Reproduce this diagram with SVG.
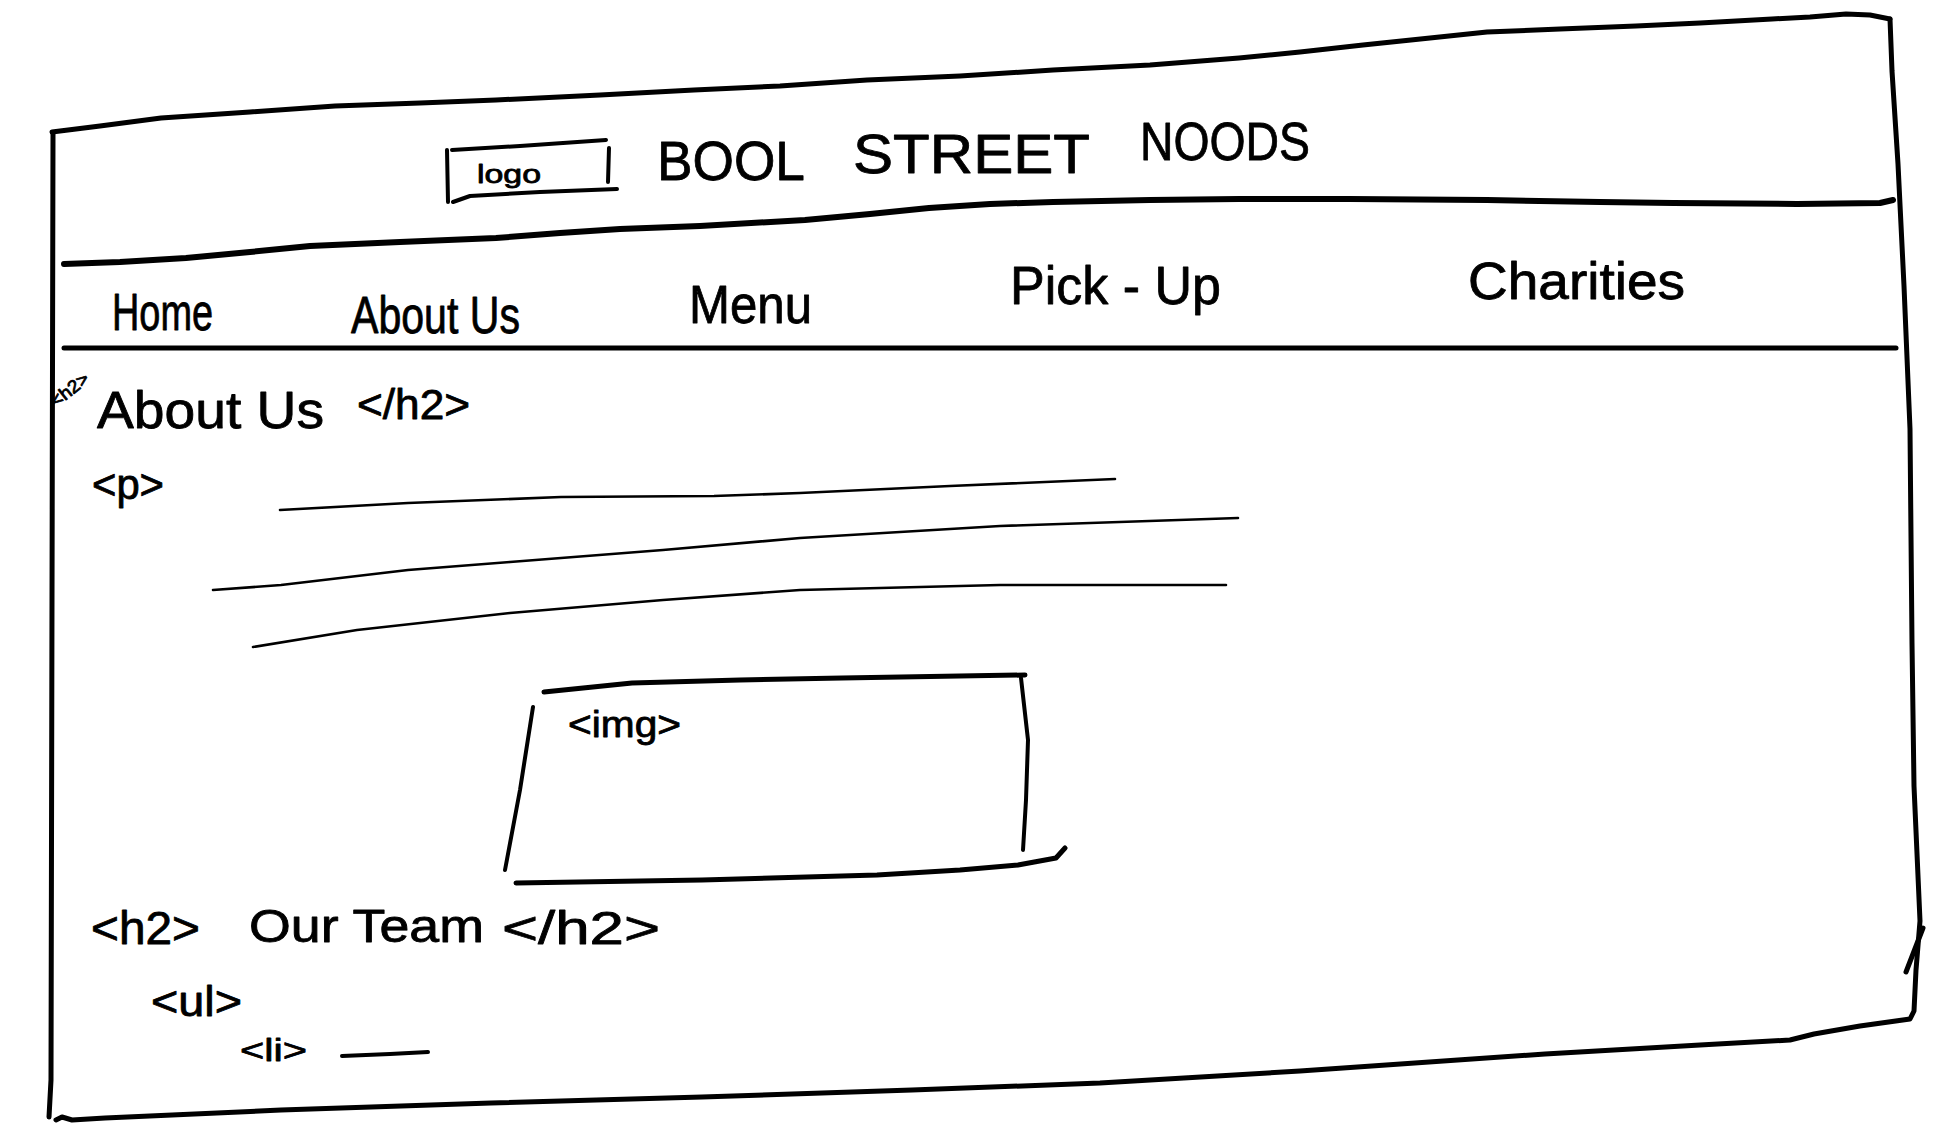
<svg xmlns="http://www.w3.org/2000/svg" width="1942" height="1124" viewBox="0 0 1942 1124">
<style>
.ink{fill:none;stroke:#000;stroke-linecap:round;stroke-linejoin:round}
.b{stroke-width:5}
.m{stroke-width:4}
.t{stroke-width:2.6}
text{font-family:"Liberation Sans","DejaVu Sans",sans-serif;fill:#000;stroke:#000;stroke-width:0.8;stroke-linejoin:round}
</style>
<rect width="1942" height="1124" fill="#fff"/>
<g id="page-frame">
<path class="ink b" d="M52,132 L100,126 L161,118 L250,112 L335,106 L420,103 L496,100 L600,95 L694,90 L780,86 L867,80 L960,76 L1053,70 L1150,65 L1239,58 L1300,52 L1363,45 L1430,38 L1487,32 L1560,29 L1636,26 L1700,23 L1772,19 L1810,17 L1846,14 L1870,15 L1890,19"/>
<path class="ink b" d="M1890,19 L1892,71 L1898,164 L1904,286 L1910,429 L1912,643 L1914,786 L1920,921 L1916,970 L1914,1011 L1910,1019 L1860,1026 L1814,1034 L1790,1040 L1700,1045 L1545,1054 L1300,1071 L1100,1083 L912,1090 L702,1097 L491,1103 L281,1110 L105,1118 L72,1120 L62,1117 L56,1120"/>
<path class="ink b" d="M1923,928 L1906,972"/>
<path class="ink b" d="M53,134 L52,600 L51,1080 L49,1117"/>
</g>
<g id="header">
<path class="ink" stroke-width="6" d="M64,264 L120,262 L186,258 L250,252 L310,246 L400,242 L496,238 L560,233 L620,229 L700,226 L805,220 L870,214 L929,208 L990,204 L1053,202 L1150,200 L1239,199 L1350,199 L1487,200 L1600,202 L1673,203 L1797,204 L1880,203 L1893,200"/>
<g id="logo">
<path class="ink m" d="M452,150 L520,146 L606,140"/>
<path class="ink m" d="M447,150 L448,202"/>
<path class="ink m" d="M453,202 L470,196 L540,192 L617,189"/>
<path class="ink m" d="M609,148 L608,182"/>
<text x="477" y="183" font-size="26" textLength="64" lengthAdjust="spacingAndGlyphs">logo</text>
</g>
<g id="title">
<text x="657" y="180" font-size="56" textLength="148" lengthAdjust="spacingAndGlyphs">BOOL</text>
<text x="853" y="173" font-size="56" textLength="237" lengthAdjust="spacingAndGlyphs">STREET</text>
<text x="1140" y="160" font-size="53" textLength="170" lengthAdjust="spacingAndGlyphs">NOODS</text>
</g>
</g>
<g id="nav">
<text x="112" y="330" font-size="52" textLength="101" lengthAdjust="spacingAndGlyphs">Home</text>
<text x="351" y="333" font-size="52" textLength="169" lengthAdjust="spacingAndGlyphs">About Us</text>
<text x="689" y="323" font-size="54" textLength="123" lengthAdjust="spacingAndGlyphs">Menu</text>
<text x="1010" y="304" font-size="54" textLength="211" lengthAdjust="spacingAndGlyphs">Pick - Up</text>
<text x="1468" y="299" font-size="52" textLength="217" lengthAdjust="spacingAndGlyphs">Charities</text>
<path class="ink b" d="M64,348 L1896,348"/>
</g>
<g id="about-heading">
<text x="0" y="0" font-size="18" transform="translate(56,408) rotate(-38)" textLength="44" lengthAdjust="spacingAndGlyphs">&lt;h2&gt;</text>
<text x="97" y="428" font-size="52" textLength="227" lengthAdjust="spacingAndGlyphs">About Us</text>
<text x="357" y="419" font-size="42" textLength="113" lengthAdjust="spacingAndGlyphs">&lt;/h2&gt;</text>
</g>
<g id="paragraph">
<text x="92" y="499" font-size="42" textLength="72" lengthAdjust="spacingAndGlyphs">&lt;p&gt;</text>
<path class="ink t" d="M280,510 L408,503 L561,497 L714,496 L800,493 L950,486 L1115,479"/>
<path class="ink t" d="M213,590 L281,585 L408,570 L510,562 L663,550 L800,538 L1000,526 L1238,518"/>
<path class="ink t" d="M253,647 L357,630 L510,613 L663,600 L800,590 L1000,585 L1226,585"/>
</g>
<g id="image">
<path class="ink b" d="M544,692 L632,683 L740,680 L842,678 L1025,675"/>
<path class="ink m" d="M533,707 L520,790 L505,870"/>
<path class="ink m" d="M1021,678 L1028,740 L1026,800 L1023,850"/>
<path class="ink b" d="M516,883 L702,880 L877,875 L960,870 L1018,865 L1056,858 L1065,848"/>
<text x="568" y="737" font-size="36" textLength="113" lengthAdjust="spacingAndGlyphs">&lt;img&gt;</text>
</g>
<g id="team-heading">
<text x="91" y="944" font-size="46" textLength="109" lengthAdjust="spacingAndGlyphs">&lt;h2&gt;</text>
<text x="249" y="942" font-size="46" textLength="235" lengthAdjust="spacingAndGlyphs">Our  Team</text>
<text x="502" y="944" font-size="46" textLength="158" lengthAdjust="spacingAndGlyphs">&lt;/h2&gt;</text>
</g>
<g id="team-list">
<text x="151" y="1016" font-size="42" textLength="91" lengthAdjust="spacingAndGlyphs">&lt;ul&gt;</text>
<text x="240" y="1061" font-size="32" textLength="67" lengthAdjust="spacingAndGlyphs">&lt;li&gt;</text>
<path class="ink m" d="M342,1056 L390,1054 L428,1052"/>
</g>
</svg>
